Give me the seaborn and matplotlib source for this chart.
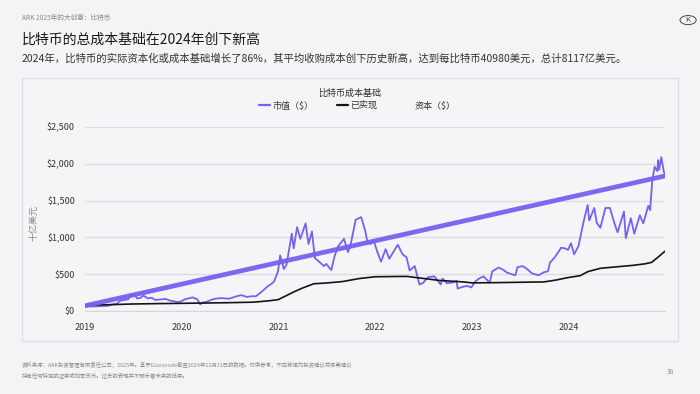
import pandas as pd
import matplotlib.pyplot as plt
import seaborn as sns
from matplotlib.lines import Line2D
from matplotlib.patches import Rectangle, Circle

# Market cap (billion USD)
mcap_dates = [
    "2019-01-01", "2019-01-15", "2019-02-01", "2019-02-15", "2019-03-01", "2019-03-15", "2019-04-01",
    "2019-04-15", "2019-05-01", "2019-05-15", "2019-06-01", "2019-06-15", "2019-06-26", "2019-07-10",
    "2019-07-17", "2019-08-01", "2019-08-10", "2019-08-28", "2019-09-10", "2019-09-25", "2019-10-10",
    "2019-10-25", "2019-11-01", "2019-11-20", "2019-12-01", "2019-12-17", "2019-12-31",
    "2020-01-15", "2020-02-12", "2020-03-01", "2020-03-12", "2020-03-20", "2020-04-01", "2020-04-30",
    "2020-05-15", "2020-06-01", "2020-06-15", "2020-07-01", "2020-07-27", "2020-08-15", "2020-09-05",
    "2020-09-20", "2020-10-08", "2020-10-21", "2020-11-05", "2020-11-25", "2020-12-01", "2020-12-16",
    "2020-12-31",
    "2021-01-08", "2021-01-22", "2021-02-01", "2021-02-21", "2021-02-28", "2021-03-13", "2021-03-25",
    "2021-04-14", "2021-04-25", "2021-05-08", "2021-05-19", "2021-06-01", "2021-06-22", "2021-07-01",
    "2021-07-20", "2021-08-01", "2021-08-15", "2021-09-06", "2021-09-21", "2021-10-01", "2021-10-20",
    "2021-11-10", "2021-11-25", "2021-12-04", "2021-12-15", "2021-12-27",
    "2022-01-10", "2022-01-24", "2022-02-10", "2022-02-24", "2022-03-28", "2022-04-15", "2022-04-30",
    "2022-05-12", "2022-05-31", "2022-06-18", "2022-07-01", "2022-07-20", "2022-08-13", "2022-09-06",
    "2022-09-13", "2022-09-30", "2022-10-25", "2022-11-05", "2022-11-09", "2022-11-30", "2022-12-15",
    "2022-12-31",
    "2023-01-14", "2023-01-31", "2023-02-15", "2023-03-10", "2023-03-20", "2023-04-13", "2023-04-30",
    "2023-05-15", "2023-06-15", "2023-06-23", "2023-07-13", "2023-07-31", "2023-08-17", "2023-09-11",
    "2023-09-30", "2023-10-16", "2023-10-24", "2023-11-09", "2023-12-05", "2023-12-20", "2023-12-31",
    "2024-01-11", "2024-01-23", "2024-02-08", "2024-02-28", "2024-03-14", "2024-03-20", "2024-04-08",
    "2024-04-17", "2024-05-01", "2024-05-20", "2024-06-06", "2024-06-24", "2024-07-05", "2024-07-29",
    "2024-08-05", "2024-08-24", "2024-09-06", "2024-09-27", "2024-10-10", "2024-10-29", "2024-11-05",
    "2024-11-13", "2024-11-22", "2024-12-02", "2024-12-05", "2024-12-09", "2024-12-17", "2024-12-26",
    "2024-12-31",
]
mcap_values = [
    67, 63, 61, 63, 67, 68, 72, 90, 95, 140, 150, 160, 230, 215, 170, 180, 210, 170, 180, 150, 155,
    160, 165, 140, 135, 120, 130,
    160, 185, 160, 90, 115, 120, 160, 170, 175, 170, 168, 200, 215, 190, 200, 200, 235, 280, 345,
    355, 400, 540,
    755, 570, 630, 1050, 850, 1140, 980, 1190, 910, 1080, 720, 680, 610, 640, 555, 740, 880, 980,
    800, 900, 1240, 1275, 1090, 930, 910, 960,
    800, 670, 840, 710, 900, 770, 730, 550, 610, 360, 380, 460, 470, 360, 440, 375, 390, 410, 305,
    330, 340, 320,
    400, 445, 470, 385, 540, 590, 560, 520, 485, 595, 610, 565, 510, 485, 525, 540, 660, 720, 860,
    850, 830,
    920, 770, 880, 1220, 1440, 1230, 1400, 1200, 1130, 1400, 1400, 1180, 1070, 1350, 990, 1260,
    1050, 1300, 1190, 1430, 1370, 1780, 1960, 1900, 2050, 1920, 2090, 1900, 1850,
]

# Realized cap (billion USD)
real_dates = [
    "2019-01-01", "2019-04-01", "2019-07-01", "2019-10-01", "2020-01-01", "2020-04-01", "2020-07-01",
    "2020-10-01", "2020-12-01", "2021-01-01", "2021-02-01", "2021-03-01", "2021-04-01", "2021-05-15",
    "2021-07-01", "2021-09-01", "2021-11-01", "2022-01-01", "2022-03-01", "2022-05-01", "2022-06-15",
    "2022-09-01", "2022-12-01", "2023-01-01", "2023-04-01", "2023-07-01", "2023-10-01", "2023-11-15",
    "2024-01-01", "2024-02-15", "2024-03-15", "2024-05-01", "2024-07-01", "2024-09-01", "2024-10-15",
    "2024-11-10", "2024-12-01", "2024-12-31",
]
real_values = [
    80, 85, 95, 100, 104, 108, 113, 120, 140, 155, 210, 260, 310, 370, 380, 400, 440, 465, 468,
    470, 450, 415, 395, 382, 385, 390, 395, 420, 455, 480, 535, 580, 600, 620, 640, 660, 720, 812,
]

# Capital series endpoints
cap_dates = ["2019-01-01", "2024-12-31"]
cap_values = [70, 1835]

year_ticks = ["2019-01-01", "2020-01-01", "2021-01-01", "2022-01-01", "2023-01-01", "2024-01-01", "2024-12-31"]
year_labels = ["2019", "2020", "2021", "2022", "2023", "2024", ""]
y_ticks = [0, 500, 1000, 1500, 2000, 2500]
y_labels = ["$0", "$500", "$1,000", "$1,500", "$2,000", "$2,500"]

sns.set_style("white")
plt.rcParams["font.family"] = ["Noto Sans CJK SC", "DejaVu Sans"]

purple = "#7b5ff0"
bg = "#f3f4f6"

mcap = pd.DataFrame({"date": pd.to_datetime(mcap_dates), "value": mcap_values})
real = pd.DataFrame({"date": pd.to_datetime(real_dates), "value": real_values})
cap = pd.DataFrame({"date": pd.to_datetime(cap_dates), "value": cap_values})

fig = plt.figure(figsize=(7, 3.94), dpi=100, facecolor=bg)

# chart panel
fig.patches.append(Rectangle((0.0314, 0.1345), 0.937, 0.6675, transform=fig.transFigure,
                             facecolor="#f4f5f7", edgecolor="#dfe0e3", linewidth=1.0, zorder=-5))

ax = fig.add_axes([0.121, 0.2107, 0.829, 0.467])
ax.set_zorder(2)
ax.set_facecolor("none")

sns.lineplot(data=mcap, x="date", y="value", ax=ax, color=purple, linewidth=1.3)
sns.lineplot(data=real, x="date", y="value", ax=ax, color="#151515", linewidth=1.2)
sns.lineplot(data=cap, x="date", y="value", ax=ax, color=purple, linewidth=3.4, alpha=0.95)

ax.set_xlim(pd.Timestamp("2019-01-01"), pd.Timestamp("2024-12-31"))
ax.set_ylim(0, 2500)
ax.set_xticks(pd.to_datetime(year_ticks))
ax.set_xticklabels(year_labels, fontsize=6.5, color="#333333")
ax.set_yticks(y_ticks)
ax.set_yticklabels(y_labels, fontsize=6.5, color="#333333")
ax.grid(axis="y", color="#dcdde0", linewidth=1.0)
ax.set_axisbelow(True)
for s in ["top", "right", "left"]:
    ax.spines[s].set_visible(False)
ax.spines["bottom"].set_color("#d5d6d9")
ax.tick_params(axis="x", length=3, color="#d5d6d9", pad=6)
ax.tick_params(axis="y", length=0, pad=7)
ax.set_xlabel("")
ax.set_ylabel("十亿美元", fontsize=6.5, color="#888888", labelpad=2)
ax.yaxis.set_label_coords(-0.08, 0.48)

fig.text(0.5, 0.764, "比特币成本基础", fontsize=6.5, color="#333333", ha="center", va="center")
handles = [Line2D([], [], color=purple, lw=1.6),
           Line2D([], [], color="#151515", lw=1.6),
           Line2D([], [], color="none")]
fig.legend(handles, ["市值（$）", "已实现", "资本（$）"], loc="center", bbox_to_anchor=(0.51, 0.731),
           ncol=3, frameon=False, fontsize=6.5, handlelength=1.2, handletextpad=0.3,
           columnspacing=2.6, labelcolor="#333333")

# header
fig.text(0.0314, 0.954, "ARK 2025年的大创意：比特币", fontsize=4.8, color="#8a8a8a", va="center")
fig.text(0.0314, 0.898, "比特币的总成本基础在2024年创下新高", fontsize=10, color="#1a1a1a", va="center")
fig.text(0.0314, 0.852,
         "2024年，比特币的实际资本化或成本基础增长了86%，其平均收购成本创下历史新高，达到每比特币40980美元，总计8117亿美元。",
         fontsize=7.5, color="#333333", va="center")
fig.patches.append(Circle((0.983, 0.949), 0.0115, transform=fig.transFigure, facecolor="none",
                          edgecolor="#444444", linewidth=0.7))
fig.text(0.983, 0.949, "K", fontsize=5.5, color="#444444", ha="center", va="center")

# footer
fig.text(0.0314, 0.073,
         "资料来源：ARK投资管理有限责任公司，2025年。基于Glassnode截至2024年12月31日的数据。仅供参考，不应被视为投资建议或买卖建议",
         fontsize=3.9, color="#8a8a8a", va="center")
fig.text(0.0314, 0.047, "持有任何特定的证券或加密货币。过去的表现并不预示着未来的结果。",
         fontsize=3.9, color="#8a8a8a", va="center")
fig.text(0.953, 0.056, "38", fontsize=4.8, color="#8a8a8a", va="center")

fig.savefig("out.png", dpi=100, facecolor=bg)
